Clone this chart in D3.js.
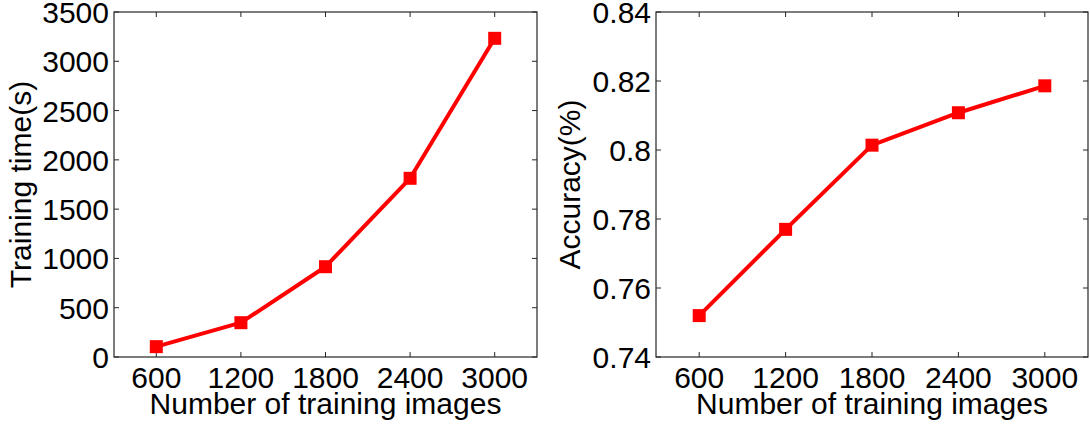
<!DOCTYPE html>
<html>
<head>
<meta charset="utf-8">
<script src="https://cdn.jsdelivr.net/npm/d3@7"></script>
<style>
  body { margin: 0; background: #fff; }
  text { font-family: "Liberation Sans", Arial, sans-serif; fill: #000; }
</style>
</head>
<body>
<div id="chart"></div>
<script>
// data
const imageCounts = [600, 1200, 1800, 2400, 3000];
const trainingTime = [105, 348, 916, 1813, 3233];
const accuracy = [0.752, 0.777, 0.8014, 0.8108, 0.8186];

const xTicks = [600, 1200, 1800, 2400, 3000];
const timeTicks = [0, 500, 1000, 1500, 2000, 2500, 3000, 3500];
const accTicks = [0.74, 0.76, 0.78, 0.8, 0.82, 0.84];

const width = 1090, height = 426;
const fontSize = 30;
const svg = d3.select("#chart").append("svg")
    .attr("width", width)
    .attr("height", height);

function drawPanel(p) {
    const g = svg.append("g");
    const x = d3.scaleLinear().domain([300, 3300]).range([p.left, p.right]);
    const y = d3.scaleLinear().domain(p.yDomain).range([p.bottom, p.top]);
    const tickLen = 5;

    // box
    g.append("rect")
        .attr("x", p.left).attr("y", p.top)
        .attr("width", p.right - p.left).attr("height", p.bottom - p.top)
        .attr("fill", "none").attr("stroke", "#262626").attr("stroke-width", 1.2);

    // inside ticks, matlab style (bottom/top, left/right)
    const tk = g.append("g").attr("stroke", "#262626").attr("stroke-width", 1);
    xTicks.forEach(t => {
        tk.append("line").attr("x1", x(t)).attr("x2", x(t))
            .attr("y1", p.bottom).attr("y2", p.bottom - tickLen);
        tk.append("line").attr("x1", x(t)).attr("x2", x(t))
            .attr("y1", p.top).attr("y2", p.top + tickLen);
    });
    p.yTicks.forEach(t => {
        tk.append("line").attr("x1", p.left).attr("x2", p.left + tickLen)
            .attr("y1", y(t)).attr("y2", y(t));
        tk.append("line").attr("x1", p.right).attr("x2", p.right - tickLen)
            .attr("y1", y(t)).attr("y2", y(t));
    });

    g.selectAll(".xl").data(xTicks).join("text")
        .attr("x", d => x(d)).attr("y", p.bottom + 31)
        .attr("text-anchor", "middle").attr("font-size", fontSize)
        .text(d => d);
    g.selectAll(".yl").data(p.yTicks).join("text")
        .attr("x", p.left - 5).attr("y", d => y(d) + 11)
        .attr("text-anchor", "end").attr("font-size", fontSize)
        .text(p.fmt);

    g.append("text")
        .attr("x", (p.left + p.right) / 2).attr("y", p.bottom + 57)
        .attr("text-anchor", "middle").attr("font-size", fontSize)
        .text("Number of training images");
    g.append("text")
        .attr("transform", `translate(${p.yLabelX},${(p.top + p.bottom) / 2}) rotate(-90)`)
        .attr("text-anchor", "middle").attr("font-size", fontSize)
        .text(p.yLabel);

    const pts = imageCounts.map((c, i) => [c, p.values[i]]);
    g.append("path")
        .datum(pts)
        .attr("fill", "none").attr("stroke", "#ff0000").attr("stroke-width", 4)
        .attr("stroke-linejoin", "round")
        .attr("d", d3.line().x(d => x(d[0])).y(d => y(d[1])));
    const s = 13;
    g.selectAll(".mk").data(pts).join("rect")
        .attr("x", d => x(d[0]) - s / 2).attr("y", d => y(d[1]) - s / 2)
        .attr("width", s).attr("height", s)
        .attr("fill", "#ff0000");
}

drawPanel({
    left: 114, right: 537, top: 12, bottom: 357,
    yDomain: [0, 3500], yTicks: timeTicks, values: trainingTime,
    fmt: d => d, yLabel: "Training time(s)", yLabelX: 31
});
drawPanel({
    left: 656, right: 1088, top: 12, bottom: 357,
    yDomain: [0.74, 0.84], yTicks: accTicks, values: accuracy,
    fmt: d => String(+d.toFixed(2)), yLabel: "Accuracy(%)", yLabelX: 580
});
</script>
</body>
</html>
